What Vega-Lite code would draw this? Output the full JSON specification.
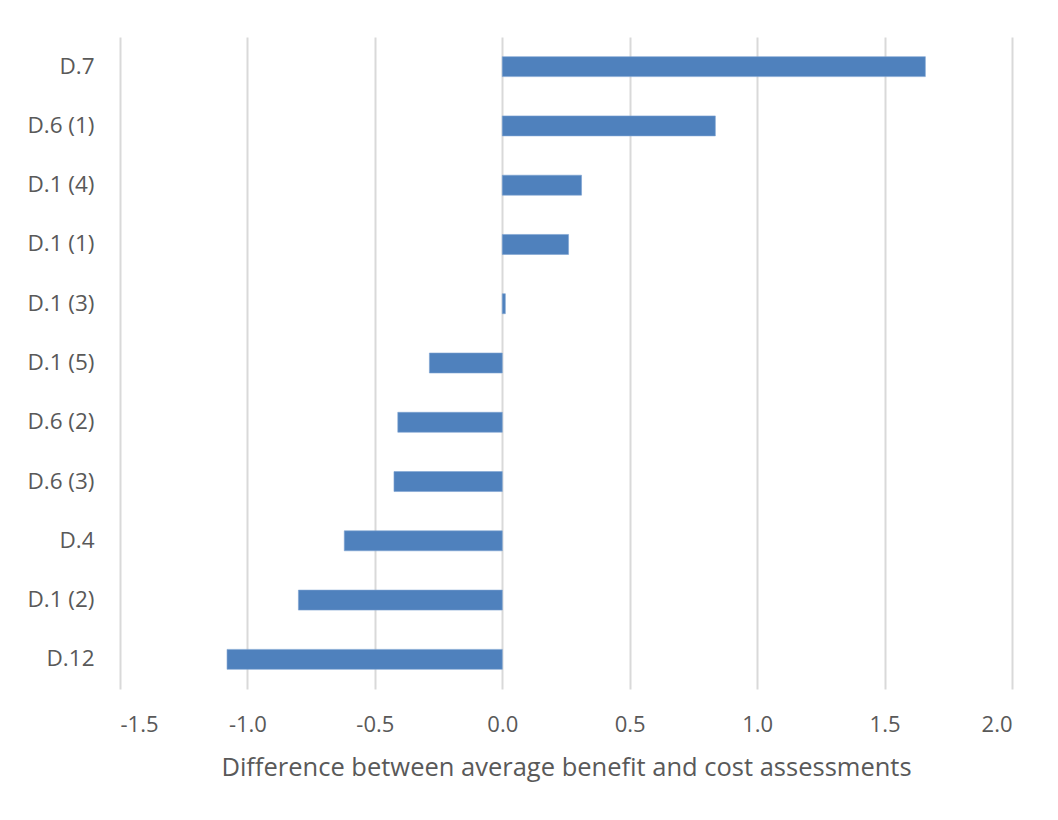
{
  "$schema": "https://vega.github.io/schema/vega-lite/v6.json",
  "autosize": {"type": "none"},
  "width": 892,
  "height": 652,
  "padding": {"left": 120, "top": 37, "right": 46, "bottom": 131},
  "background": "white",
  "data": {
    "values": [
      {"item": "D.7", "diff": 1.66},
      {"item": "D.6 (1)", "diff": 0.836},
      {"item": "D.1 (4)", "diff": 0.311},
      {"item": "D.1 (1)", "diff": 0.26},
      {"item": "D.1 (3)", "diff": 0.012},
      {"item": "D.1 (5)", "diff": -0.286},
      {"item": "D.6 (2)", "diff": -0.41},
      {"item": "D.6 (3)", "diff": -0.425},
      {"item": "D.4", "diff": -0.62},
      {"item": "D.1 (2)", "diff": -0.80},
      {"item": "D.12", "diff": -1.08}
    ]
  },
  "mark": {"type": "bar", "color": "#4f81bd", "stroke": "#7ea3d1", "strokeWidth": 0.6},
  "encoding": {
    "y": {
      "field": "item",
      "type": "nominal",
      "sort": null,
      "scale": {"paddingInner": 0.663, "paddingOuter": 0.3315},
      "axis": {
        "title": null,
        "ticks": false,
        "domain": false,
        "grid": false,
        "labelPadding": 26,
        "labelFont": "Open Sans",
        "labelFontSize": 22.5,
        "labelColor": "#595959"
      }
    },
    "x": {
      "field": "diff",
      "type": "quantitative",
      "scale": {"domain": [-1.5, 2.0], "nice": false, "zero": false},
      "axis": {
        "values": [-1.5, -1.0, -0.5, 0, 0.5, 1.0, 1.5, 2.0],
        "labelExpr": "replace(format(datum.value, '.1f'), '\u2212', '-')",
        "title": "Difference between average benefit and cost assessments",
        "titleFont": "Open Sans",
        "titleFontSize": 25.5,
        "titleFontWeight": "normal",
        "titleColor": "#595959",
        "titlePadding": 20,
        "ticks": false,
        "domain": false,
        "grid": true,
        "gridColor": "#d9d9d9",
        "gridWidth": 2,
        "labelPadding": 25,
        "labelFont": "Open Sans",
        "labelFontSize": 22,
        "labelColor": "#595959"
      }
    }
  },
  "config": {"view": {"stroke": null}}
}
